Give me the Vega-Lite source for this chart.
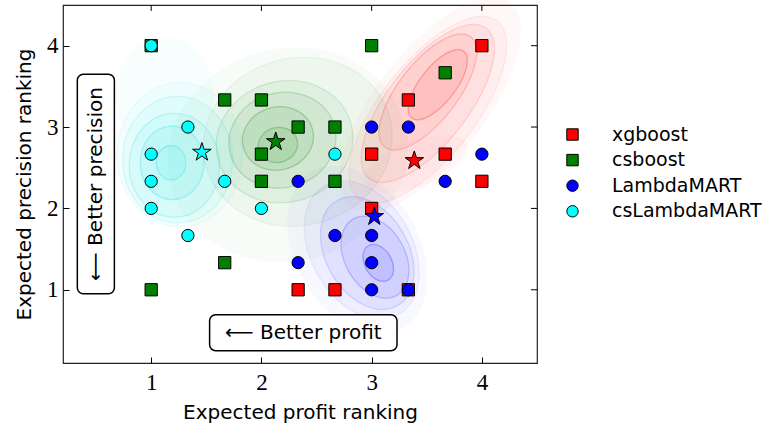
{
  "$schema": "https://vega.github.io/schema/vega-lite/v6.json",
  "width": 474,
  "height": 358,
  "autosize": {"type": "none"},
  "padding": {"left": 63, "top": 5, "right": 229, "bottom": 67},
  "background": "white",
  "config": {
    "view": {"stroke": "#222", "strokeWidth": 1.2},
    "font": "DejaVu Sans",
    "axis": {"grid": false}
  },
  "datasets": {
    "blobs": [
      {"group": "red", "level": 5, "x": 3.60, "y": 3.52, "w": 0.77, "ang": 308},
      {"group": "red", "level": 4, "x": 3.51, "y": 3.43, "w": 1.27, "ang": 308},
      {"group": "red", "level": 3, "x": 3.51, "y": 3.29, "w": 1.73, "ang": 308},
      {"group": "red", "level": 2, "x": 3.51, "y": 3.21, "w": 2.05, "ang": 308},
      {"group": "red", "level": 1, "x": 3.53, "y": 3.27, "w": 2.36, "ang": 308},
      {"group": "red", "level": 1, "x": 3.40, "y": 2.55, "w": 1.0, "ang": 340},
      {"group": "green", "level": 5, "x": 2.15, "y": 2.78, "w": 0.36, "ang": 345},
      {"group": "green", "level": 5, "x": 2.15, "y": 2.86, "w": 0.65, "ang": 345},
      {"group": "green", "level": 4, "x": 2.19, "y": 2.84, "w": 0.98, "ang": 345},
      {"group": "green", "level": 3, "x": 2.21, "y": 2.82, "w": 1.25, "ang": 345},
      {"group": "green", "level": 2, "x": 2.33, "y": 2.82, "w": 1.73, "ang": 345},
      {"group": "green", "level": 1, "x": 2.24, "y": 2.66, "w": 2.2, "ang": 345},
      {"group": "blue", "level": 5, "x": 3.06, "y": 1.33, "w": 0.36, "ang": 60},
      {"group": "blue", "level": 4, "x": 3.03, "y": 1.40, "w": 0.8, "ang": 60},
      {"group": "blue", "level": 3, "x": 2.96, "y": 1.45, "w": 1.1, "ang": 60},
      {"group": "blue", "level": 2, "x": 2.91, "y": 1.49, "w": 1.35, "ang": 60},
      {"group": "blue", "level": 1, "x": 2.87, "y": 1.49, "w": 1.65, "ang": 60},
      {"group": "cyan", "level": 5, "x": 1.18, "y": 2.56, "w": 0.27, "ang": 0},
      {"group": "cyan", "level": 5, "x": 1.19, "y": 2.56, "w": 0.58, "ang": 0},
      {"group": "cyan", "level": 4, "x": 1.21, "y": 2.53, "w": 0.82, "ang": 0},
      {"group": "cyan", "level": 3, "x": 1.24, "y": 2.60, "w": 1.0, "ang": 0},
      {"group": "cyan", "level": 2, "x": 1.26, "y": 2.66, "w": 1.14, "ang": 0},
      {"group": "cyan", "level": 1, "x": 1.12, "y": 3.40, "w": 0.9, "ang": 0}
    ],
    "boxes": [
      {"x1": 1.53, "x2": 3.23, "y1": 0.693, "y2": 0.252},
      {"x1": 0.33, "x2": 0.666, "y1": 3.65, "y2": 0.951}
    ],
    "notes": [
      {"x": 2.38, "y": 0.47, "label": "⟵ Better profit", "ang": 0},
      {"x": 0.498, "y": 2.30, "label": "⟵ Better precision", "ang": 270}
    ],
    "ticks": [{"v": 1}, {"v": 2}, {"v": 3}, {"v": 4}],
    "points": [
      {"method": "xgboost", "profit": 4, "precision": 4},
      {"method": "xgboost", "profit": 3.333, "precision": 3.333},
      {"method": "xgboost", "profit": 3, "precision": 2.667},
      {"method": "xgboost", "profit": 3.667, "precision": 2.667},
      {"method": "xgboost", "profit": 4, "precision": 2.333},
      {"method": "xgboost", "profit": 3, "precision": 2},
      {"method": "xgboost", "profit": 2.333, "precision": 1},
      {"method": "xgboost", "profit": 2.667, "precision": 1},
      {"method": "xgboost", "profit": 3.333, "precision": 1},
      {"method": "csboost", "profit": 1, "precision": 4},
      {"method": "csboost", "profit": 3, "precision": 4},
      {"method": "csboost", "profit": 3.667, "precision": 3.667},
      {"method": "csboost", "profit": 1.667, "precision": 3.333},
      {"method": "csboost", "profit": 2, "precision": 3.333},
      {"method": "csboost", "profit": 2.333, "precision": 3},
      {"method": "csboost", "profit": 2.667, "precision": 3},
      {"method": "csboost", "profit": 2, "precision": 2.667},
      {"method": "csboost", "profit": 2, "precision": 2.333},
      {"method": "csboost", "profit": 2.667, "precision": 2.333},
      {"method": "csboost", "profit": 1.667, "precision": 1.333},
      {"method": "csboost", "profit": 1, "precision": 1},
      {"method": "LambdaMART", "profit": 3, "precision": 3},
      {"method": "LambdaMART", "profit": 3.333, "precision": 3},
      {"method": "LambdaMART", "profit": 4, "precision": 2.667},
      {"method": "LambdaMART", "profit": 2.333, "precision": 2.333},
      {"method": "LambdaMART", "profit": 3.667, "precision": 2.333},
      {"method": "LambdaMART", "profit": 2.667, "precision": 1.667},
      {"method": "LambdaMART", "profit": 3, "precision": 1.667},
      {"method": "LambdaMART", "profit": 2.333, "precision": 1.333},
      {"method": "LambdaMART", "profit": 3, "precision": 1.333},
      {"method": "LambdaMART", "profit": 3, "precision": 1},
      {"method": "LambdaMART", "profit": 3.333, "precision": 1},
      {"method": "csLambdaMART", "profit": 1, "precision": 4},
      {"method": "csLambdaMART", "profit": 1.333, "precision": 3},
      {"method": "csLambdaMART", "profit": 1, "precision": 2.667},
      {"method": "csLambdaMART", "profit": 2.667, "precision": 2.667},
      {"method": "csLambdaMART", "profit": 1, "precision": 2.333},
      {"method": "csLambdaMART", "profit": 1.667, "precision": 2.333},
      {"method": "csLambdaMART", "profit": 1, "precision": 2},
      {"method": "csLambdaMART", "profit": 2, "precision": 2},
      {"method": "csLambdaMART", "profit": 1.333, "precision": 1.667}
    ],
    "stars": [
      {"method": "xgboost", "profit": 3.387, "precision": 2.587},
      {"method": "csboost", "profit": 2.13, "precision": 2.82},
      {"method": "LambdaMART", "profit": 3.024, "precision": 1.90},
      {"method": "csLambdaMART", "profit": 1.46, "precision": 2.69}
    ]
  },
  "layer": [
    {
      "data": {"name": "blobs"},
      "transform": [{"filter": "datum.group == 'green'"}],
      "mark": {"type": "point", "shape": "M-1,0A1,0.88,0,1,0,1,0A1,0.88,0,1,0,-1,0Z", "filled": true, "fill": "#008000", "stroke": "#008000", "strokeWidth": 1.3},
      "encoding": {
        "x": {"field": "x", "type": "quantitative", "scale": {"domain": [0.2, 4.5], "nice": false, "zero": false}},
        "y": {"field": "y", "type": "quantitative", "scale": {"domain": [0.1, 4.5], "nice": false, "zero": false}},
        "size": {"field": "w", "type": "quantitative", "scale": {"type": "pow", "exponent": 2, "domain": [0, 2], "range": [0, 48400]}, "legend": null},
        "angle": {"field": "ang", "type": "quantitative", "scale": null},
        "fillOpacity": {"field": "level", "type": "quantitative", "scale": {"domain": [1, 5], "range": [0.035, 0.115]}, "legend": null},
        "strokeOpacity": {"field": "level", "type": "quantitative", "scale": {"domain": [1, 5], "range": [0.0, 0.35]}, "legend": null}
      }
    },
    {
      "data": {"name": "blobs"},
      "transform": [{"filter": "datum.group == 'cyan'"}],
      "mark": {"type": "point", "shape": "M-1,0A1,1.15,0,1,0,1,0A1,1.15,0,1,0,-1,0Z", "filled": true, "fill": "#00ecec", "stroke": "#00d0d0", "strokeWidth": 1.3},
      "encoding": {
        "x": {"field": "x", "type": "quantitative"},
        "y": {"field": "y", "type": "quantitative"},
        "size": {"field": "w", "type": "quantitative", "legend": null},
        "angle": {"field": "ang", "type": "quantitative", "scale": null},
        "fillOpacity": {"field": "level", "type": "quantitative", "legend": null},
        "strokeOpacity": {"field": "level", "type": "quantitative", "legend": null}
      }
    },
    {
      "data": {"name": "blobs"},
      "transform": [{"filter": "datum.group == 'red'"}],
      "mark": {"type": "point", "shape": "M-1,0A1,0.42,0,1,0,1,0A1,0.42,0,1,0,-1,0Z", "filled": true, "fill": "#ff0000", "stroke": "#ff0000", "strokeWidth": 1.3},
      "encoding": {
        "x": {"field": "x", "type": "quantitative"},
        "y": {"field": "y", "type": "quantitative"},
        "size": {"field": "w", "type": "quantitative", "legend": null},
        "angle": {"field": "ang", "type": "quantitative", "scale": null},
        "fillOpacity": {"field": "level", "type": "quantitative", "legend": null},
        "strokeOpacity": {"field": "level", "type": "quantitative", "legend": null}
      }
    },
    {
      "data": {"name": "blobs"},
      "transform": [{"filter": "datum.group == 'blue'"}],
      "mark": {"type": "point", "shape": "M-1,0A1,0.68,0,1,0,1,0A1,0.68,0,1,0,-1,0Z", "filled": true, "fill": "#0000ff", "stroke": "#0000ff", "strokeWidth": 1.3},
      "encoding": {
        "x": {"field": "x", "type": "quantitative"},
        "y": {"field": "y", "type": "quantitative"},
        "size": {"field": "w", "type": "quantitative", "legend": null},
        "angle": {"field": "ang", "type": "quantitative", "scale": null},
        "fillOpacity": {"field": "level", "type": "quantitative", "legend": null},
        "strokeOpacity": {"field": "level", "type": "quantitative", "legend": null}
      }
    },
    {
      "data": {"name": "ticks"},
      "mark": {"type": "rule", "color": "black", "strokeWidth": 1},
      "encoding": {
        "x": {"field": "v", "type": "quantitative"},
        "y": {"datum": 4.5},
        "y2": {"datum": 4.427}
      }
    },
    {
      "data": {"name": "ticks"},
      "mark": {"type": "rule", "color": "black", "strokeWidth": 1},
      "encoding": {
        "y": {"field": "v", "type": "quantitative"},
        "x": {"datum": 4.5},
        "x2": {"datum": 4.4455}
      }
    },
    {
      "data": {"name": "boxes"},
      "mark": {"type": "rect", "fill": "white", "stroke": "black", "strokeWidth": 1.5, "cornerRadius": 6},
      "encoding": {
        "x": {"field": "x1", "type": "quantitative"},
        "x2": {"field": "x2"},
        "y": {"field": "y1", "type": "quantitative"},
        "y2": {"field": "y2"}
      }
    },
    {
      "data": {"name": "notes"},
      "mark": {"type": "text", "font": "DejaVu Sans", "fontSize": 20, "color": "black", "align": "center", "baseline": "middle"},
      "encoding": {
        "x": {"field": "x", "type": "quantitative"},
        "y": {"field": "y", "type": "quantitative"},
        "text": {"field": "label"},
        "angle": {"field": "ang", "type": "quantitative", "scale": null}
      }
    },
    {
      "data": {"name": "points"},
      "mark": {"type": "point", "filled": true, "size": 150, "stroke": "black", "strokeWidth": 1, "opacity": 1},
      "encoding": {
        "x": {"field": "profit", "type": "quantitative", "axis": {"orient": "bottom", "values": [1, 2, 3, 4], "format": "d", "domain": false, "offset": -6, "tickSize": 6, "tickColor": "black", "labelPadding": 8, "labelFont": "Liberation Serif", "labelFontSize": 23, "labelColor": "black", "title": "Expected profit ranking", "titleFont": "DejaVu Sans", "titleFontSize": 20, "titleFontWeight": "normal", "titleColor": "black", "titlePadding": 8}},
        "y": {"field": "precision", "type": "quantitative", "axis": {"orient": "left", "values": [1, 2, 3, 4], "format": "d", "domain": false, "offset": -6, "tickSize": 6, "tickColor": "black", "labelPadding": 5, "labelFont": "Liberation Serif", "labelFontSize": 23, "labelColor": "black", "title": "Expected precision ranking", "titleFont": "DejaVu Sans", "titleFontSize": 20, "titleFontWeight": "normal", "titleColor": "black", "titlePadding": 12}},
        "color": {"field": "method", "type": "nominal", "scale": {"domain": ["xgboost", "csboost", "LambdaMART", "csLambdaMART"], "range": ["#ff0000", "#008000", "#0000ff", "#00ffff"]}, "legend": {"title": null, "orient": "none", "legendX": 500, "legendY": 120, "labelFont": "DejaVu Sans", "labelFontSize": 19, "labelColor": "black", "labelOffset": 30, "symbolSize": 130, "symbolStrokeColor": "black", "symbolStrokeWidth": 1, "rowPadding": 5.6}},
        "shape": {"field": "method", "type": "nominal", "scale": {"domain": ["xgboost", "csboost", "LambdaMART", "csLambdaMART"], "range": ["square", "square", "circle", "circle"]}, "legend": {"title": null, "orient": "none", "legendX": 500, "legendY": 120, "labelFont": "DejaVu Sans", "labelFontSize": 19, "labelColor": "black", "labelOffset": 30, "symbolSize": 130, "symbolStrokeColor": "black", "symbolStrokeWidth": 1, "rowPadding": 5.6}}
      }
    },
    {
      "data": {"name": "stars"},
      "mark": {"type": "point", "shape": "M0,-1L0.2245,-0.309L0.951,-0.309L0.363,0.118L0.588,0.809L0,0.382L-0.588,0.809L-0.363,0.118L-0.951,-0.309L-0.2245,-0.309Z", "filled": true, "size": 380, "stroke": "black", "strokeWidth": 1, "opacity": 1},
      "encoding": {
        "x": {"field": "profit", "type": "quantitative"},
        "y": {"field": "precision", "type": "quantitative"},
        "fill": {"field": "method", "type": "nominal", "scale": {"domain": ["xgboost", "csboost", "LambdaMART", "csLambdaMART"], "range": ["#ff0000", "#008000", "#0000ff", "#00ffff"]}, "legend": null}
      }
    }
  ]
}
